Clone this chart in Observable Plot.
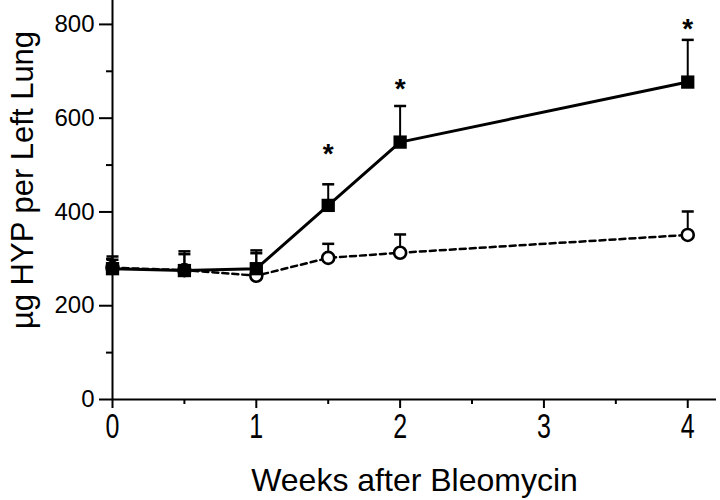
<!DOCTYPE html>
<html>
<head>
<meta charset="utf-8">
<script src="https://cdn.jsdelivr.net/npm/d3@7"></script>
<script src="https://cdn.jsdelivr.net/npm/@observablehq/plot@0.6"></script>
<style>
  html, body { margin: 0; padding: 0; background: #fff; }
  #chart { width: 720px; height: 500px; }
</style>
</head>
<body>
<div id="chart"></div>
<script>
// ---- data ----
const weeks = [0, 0.5, 1, 1.5, 2, 4];
const bleoMean  = [279, 275, 279, 414, 549, 677];
const bleoUpper = [305, 316, 318, 459, 626, 767];
const ctrlMean  = [281, 276, 264, 302, 313, 351];
const ctrlUpper = [298, 310, 312, 332, 352, 401];
const starWeeks = [1.5, 2, 4];
const starValues = [536, 674, 803];
const xTicks = [0, 1, 2, 3, 4];
const xMinorTicks = [0.5, 1.5, 2.5, 3.5];
const yTicks = [0, 200, 400, 600, 800];
const yMinorTicks = [100, 300, 500, 700];
const xTitle = "Weeks after Bleomycin";
const yTitle = "µg HYP per Left Lung";

const bleo = weeks.map((w, i) => ({week: w, mean: bleoMean[i], upper: bleoUpper[i]}));
const ctrl = weeks.map((w, i) => ({week: w, mean: ctrlMean[i], upper: ctrlUpper[i]}));
const stars = starWeeks.map((w, i) => ({week: w, value: starValues[i]}));

const capSymbol = {
  draw(context, size) {
    const w = 6;
    context.moveTo(-w, 0);
    context.lineTo(w, 0);
  }
};

const font = "'Liberation Sans', Arial, Helvetica, sans-serif";

const chart = Plot.plot({
  width: 720,
  height: 500,
  marginLeft: 112,
  marginRight: 4,
  marginTop: 0,
  marginBottom: 101,
  style: {fontFamily: font, background: "#fff", color: "#000"},
  x: {domain: [0, 4.2], label: null},
  y: {domain: [0, 851], label: null},
  marks: [
    // axes lines
    Plot.ruleX([0], {y1: 0, y2: 851, stroke: "#000", strokeWidth: 2}),
    Plot.ruleY([0], {x1: 0, x2: 4.2, stroke: "#000", strokeWidth: 2}),
    // y axis
    Plot.axisY(yTicks, {anchor: "left", tickSize: 13, tickPadding: 5, fontSize: 24, strokeWidth: 2, label: null, tickFormat: d => String(d)}),
    Plot.axisY(yMinorTicks, {anchor: "left", tickSize: 6, tickFormat: () => "", strokeWidth: 2, label: null}),
    // x axis
    Plot.axisX(xTicks, {anchor: "bottom", tickSize: 9, tickPadding: 5, fontSize: 25, strokeWidth: 2, label: null, tickFormat: d => String(d)}),
    Plot.axisX(xMinorTicks, {anchor: "bottom", tickSize: 5, tickFormat: () => "", strokeWidth: 2, label: null}),
    // titles
    Plot.text([xTitle], {frameAnchor: "bottom", dy: 81, lineAnchor: "middle", textAnchor: "middle", fontSize: 32, fill: "#000"}),
    Plot.text([yTitle], {frameAnchor: "left", dx: -89, dy: -20, rotate: -90, lineAnchor: "middle", textAnchor: "middle", fontSize: 31, fill: "#000"}),
    // lines
    Plot.line(ctrl, {x: "week", y: "mean", stroke: "#000", strokeWidth: 2.5, strokeDasharray: "6,4"}),
    Plot.line(bleo, {x: "week", y: "mean", stroke: "#000", strokeWidth: 3}),
    // error bars
    Plot.ruleX(ctrl, {x: "week", y1: "mean", y2: "upper", stroke: "#000", strokeWidth: 2}),
    Plot.dot(ctrl, {x: "week", y: "upper", symbol: capSymbol, stroke: "#000", strokeWidth: 2.5, fill: "none"}),
    Plot.ruleX(bleo, {x: "week", y1: "mean", y2: "upper", stroke: "#000", strokeWidth: 2}),
    Plot.dot(bleo, {x: "week", y: "upper", symbol: capSymbol, stroke: "#000", strokeWidth: 2.5, fill: "none"}),
    // points
    Plot.dot(ctrl, {x: "week", y: "mean", r: 6, symbol: "circle", fill: "#fff", stroke: "#000", strokeWidth: 2.6}),
    Plot.dot(bleo, {x: "week", y: "mean", r: 7.5, symbol: "square", fill: "#000", stroke: "#000", strokeWidth: 0}),
    // significance asterisks
    Plot.text(stars, {x: "week", y: "value", text: () => "*", fontSize: 28, fontWeight: "bold", dy: 6, fill: "#000"})
  ]
});

// the reference's x tick labels are drawn in a tall, narrow face: stretch them vertically
chart.querySelectorAll('g[aria-label="x-axis tick label"] text').forEach(t => {
  const tr = t.getAttribute("transform") || "";
  t.setAttribute("transform", tr + " scale(1,1.4)");
});

document.getElementById("chart").appendChild(chart);
</script>
</body>
</html>
